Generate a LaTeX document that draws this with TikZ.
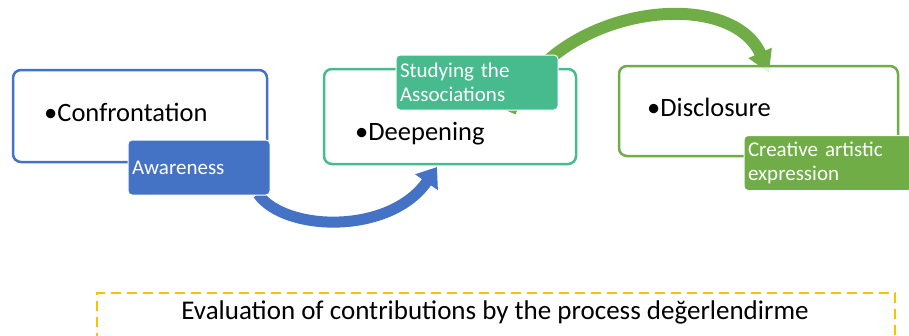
\documentclass[tikz,border=0pt]{standalone}
\usepackage{fontspec}
\setmainfont{Carlito}
\usetikzlibrary{arrows.meta, positioning}

\definecolor{aoblue}{HTML}{4472C4}
\definecolor{midori}{HTML}{70AD47}
\definecolor{aomidori}{HTML}{47BB8D}
\definecolor{yamabuki}{HTML}{FFC000}

\begin{document}
\begin{tikzpicture}[x=1pt, y=-1pt,
  waku/.style = {draw, rounded corners=8pt, line width=2.5pt, fill=white},
  fuda/.style = {draw=white, line width=1pt, rounded corners=4pt, text=white,
    align=left, inner sep=4pt, minimum height=55pt,
    font=\fontsize{21}{24}\selectfont},
  midashi/.style = {anchor=base west, inner sep=0pt, font=\fontsize{26.5}{30}\selectfont}]

  \useasboundingbox (0, 0) rectangle (909, 335);
  \clip (0, 0) rectangle (909, 335);

  % 枠
  \node[waku, draw=aoblue, minimum width=254, minimum height=92] (waku1) at (140, 116) {};
  \node[waku, draw=aomidori, minimum width=252, minimum height=95] (waku2) at (450, 116.5) {};

  % 矢印（青）
  \draw[aoblue, line width=11pt, -{Triangle[length=18.5pt, width=26.4pt]}]
    (258, 194) .. controls (285, 232) and (390, 235) .. (437, 167);

  % 矢印（緑）
  \draw[midori, line width=12pt, -{Triangle[length=22pt, width=24pt]}]
    (510, 112) .. controls (555, 5) and (730, -15) .. (769, 73);

  \node[waku, draw=midori, fill opacity=0.85, minimum width=279, minimum height=90] (waku3) at (758.5, 111) {};

  % ラベル
  \node[fuda, fill=aoblue, text width=134pt] (kizuki) at (199, 167.5) {Awareness};
  \node[fuda, fill=aomidori, text width=154pt] (kanren) at (477, 82.5) {Studying the\\Associations};
  \node[fuda, fill=midori, text width=160pt] (hyogen) at (828, 163) {Creative artistic\\expression};

  % 見出し
  \node[midashi] (t1) at (44, 121) {•Confrontation};
  \node[midashi] (t2) at (355, 140) {•Deepening};
  \node[midashi] (t3) at (647, 116) {•Disclosure};

  % 点線の枠
  \node[draw=yamabuki, line width=2.5pt, dash pattern=on 10pt off 6pt,
    minimum width=798, minimum height=60] (hyoka) at (496, 323) {};
  \node[font=\fontsize{27}{31}\selectfont] (hyokabun) at (495, 312)
    {Evaluation of contributions by the process değerlendirme};

\end{tikzpicture}
\end{document}
